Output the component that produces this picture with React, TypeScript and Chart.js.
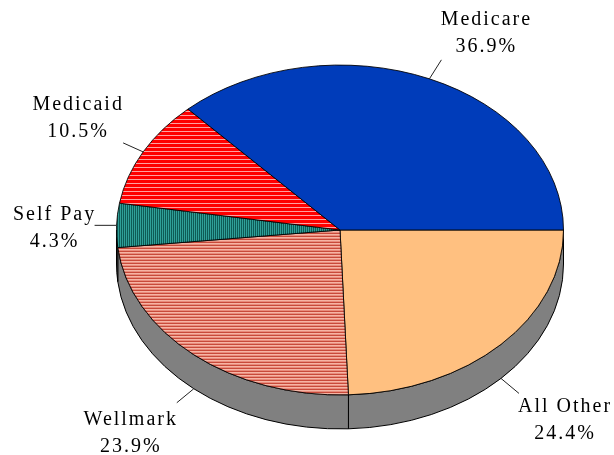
import React, { useEffect, useRef } from 'react';
import { Chart, registerables } from 'chart.js';

Chart.register(...registerables);

// Slices listed clockwise starting at 3 o'clock
const categories = ['All Other', 'Wellmark', 'Self Pay', 'Medicaid', 'Medicare'];
const shares = [24.4, 23.9, 4.3, 10.5, 36.9];
const percentLabels = ['24.4%', '23.9%', '4.3%', '10.5%', '36.9%'];

const TILT = 0.738;
const DEPTH = 34;
const LINE_GAP = 27;

// leader line end offset from the slice edge, and text anchor offset from leader end
const leaderOffsets: number[][] = [[18, 15], [-17, 14], [-22, 0], [-20, -9], [12, -19]];
const textOffsets: number[][] = [[46, 19], [-46, 22], [-40, -5], [-45, -33], [45, -35]];

function stripeCanvas(colors: string[], vertical: boolean) {
  const c = document.createElement('canvas');
  const n = colors.length;
  c.width = vertical ? n : 1;
  c.height = vertical ? 1 : n;
  const g = c.getContext('2d')!;
  colors.forEach((col, i) => {
    g.fillStyle = col;
    if (vertical) g.fillRect(i, 0, 1, 1);
    else g.fillRect(0, i, 1, 1);
  });
  return c;
}

export default function App() {
  const ref = useRef<HTMLCanvasElement | null>(null);

  useEffect(() => {
    const canvas = ref.current!;
    const ctx = canvas.getContext('2d')!;

    const medicaidPat = ctx.createPattern(stripeCanvas(['#ff0000', '#ff0000', '#ff0000', '#ffa0a0'], false), 'repeat')!;
    const selfPayPat = ctx.createPattern(stripeCanvas(['#2f9f98', '#0e5a55'], true), 'repeat')!;
    const wellmarkPat = ctx.createPattern(stripeCanvas(['#f6b4a4', '#e88c7c', '#c84a3a'], false), 'repeat')!;
    const patterns = [medicaidPat, selfPayPat, wellmarkPat];

    const colors: (string | CanvasPattern)[] = ['#ffc080', wellmarkPat, selfPayPat, medicaidPat, '#003cba'];

    const pie3d = {
      id: 'pie3d',
      beforeDatasetsDraw(chart: any) {
        const c = chart.ctx as CanvasRenderingContext2D;
        const arcs = chart.getDatasetMeta(0).data as any[];
        if (!arcs.length) return;
        const cx = arcs[0].x;
        const cy = arcs[0].y;
        const r = arcs[0].outerRadius;
        const ry = r * TILT;
        // side wall for the front half
        arcs.forEach((arc) => {
          const a0 = Math.max(arc.startAngle, 0);
          const a1 = Math.min(arc.endAngle, Math.PI);
          if (a1 <= a0) return;
          c.beginPath();
          c.ellipse(cx, cy, r, ry, 0, a0, a1);
          c.ellipse(cx, cy + DEPTH, r, ry, 0, a1, a0, true);
          c.closePath();
          c.fillStyle = '#808080';
          c.fill();
          c.strokeStyle = '#000';
          c.lineWidth = 1;
          c.stroke();
        });
        const a = cy * (1 - TILT);
        const f = (Math.round(a) - a) / TILT;
        patterns.forEach((p) => p.setTransform(new DOMMatrix([1, 0, 0, 1 / TILT, 0, f])));
        c.save();
        c.translate(0, a);
        c.scale(1, TILT);
      },
      afterDatasetsDraw(chart: any) {
        const c = chart.ctx as CanvasRenderingContext2D;
        c.restore();
        const arcs = chart.getDatasetMeta(0).data as any[];
        if (!arcs.length) return;
        const cx = arcs[0].x;
        const cy = arcs[0].y;
        const r = arcs[0].outerRadius;
        const ry = r * TILT;
        c.save();
        c.font = '20px "Liberation Serif", "Times New Roman", serif';
        (c as any).letterSpacing = '2px';
        c.textAlign = 'center';
        c.textBaseline = 'alphabetic';
        arcs.forEach((arc, i) => {
          const mid = (arc.startAngle + arc.endAngle) / 2;
          const s = Math.sin(mid);
          const sx = cx + r * Math.cos(mid);
          const sy = cy + ry * s + (s > 0 ? DEPTH : 0);
          const ex = sx + leaderOffsets[i][0];
          const ey = sy + leaderOffsets[i][1];
          c.beginPath();
          c.moveTo(sx, sy);
          c.lineTo(ex, ey);
          c.strokeStyle = '#222';
          c.lineWidth = 1;
          c.stroke();
          const tx = ex + textOffsets[i][0];
          const ty = ey + textOffsets[i][1];
          c.fillStyle = '#000';
          c.fillText(categories[i], tx, ty);
          c.fillText(percentLabels[i], tx, ty + LINE_GAP);
        });
        c.restore();
      },
    };

    const chart = new Chart(canvas, {
      type: 'pie',
      data: {
        labels: categories,
        datasets: [
          {
            data: shares,
            backgroundColor: colors as any,
            borderColor: '#000',
            borderWidth: 1,
            clip: false as any,
          },
        ],
      },
      options: {
        responsive: false,
        animation: false,
        events: [],
        rotation: 90,
        layout: { padding: { left: 116, right: 50, top: 6, bottom: 1 } },
        plugins: {
          legend: { display: false },
          tooltip: { enabled: false },
        },
      },
      plugins: [pie3d],
    });
    return () => chart.destroy();
  }, []);

  return (
    <div style={{ position: 'absolute', left: 0, top: 0, width: 614, height: 455, background: '#fff' }}>
      <canvas ref={ref} width={614} height={455} style={{ display: 'block' }} />
    </div>
  );
}
